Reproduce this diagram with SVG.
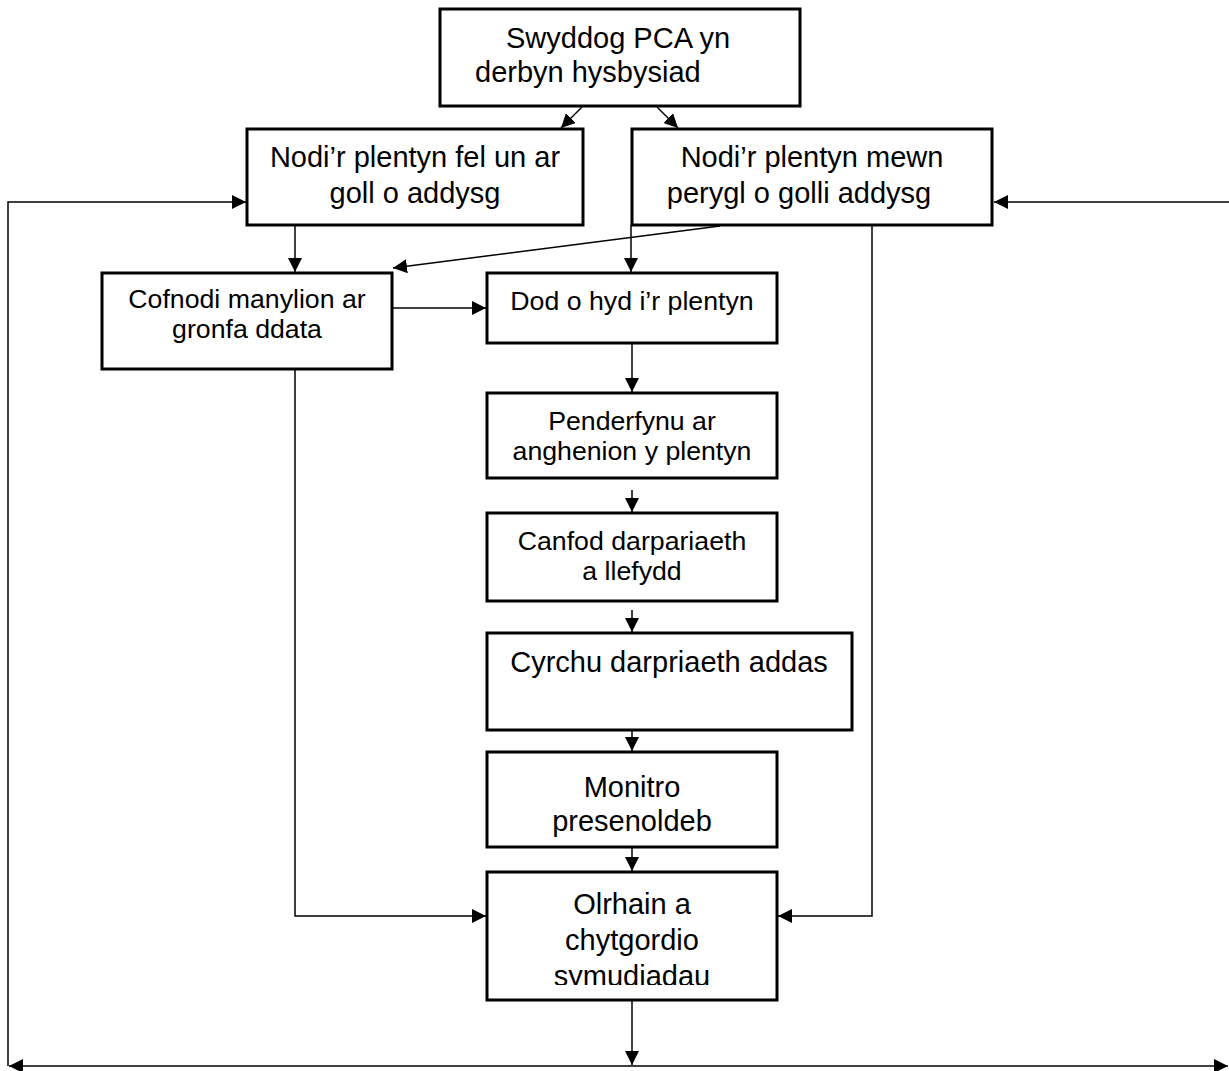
<svg xmlns="http://www.w3.org/2000/svg" width="1229" height="1071" viewBox="0 0 1229 1071">
<style>
.box{fill:#fff;stroke:#000;stroke-width:3}
.t{font-family:"Liberation Sans",Arial,sans-serif;fill:#000}
.big{font-size:29px}
.med{font-size:26.7px}
.c{text-anchor:middle}
.ln{fill:none;stroke:#000;stroke-width:1.5}
</style>
<defs>
<marker id="ah" markerUnits="userSpaceOnUse" markerWidth="15" markerHeight="14" refX="14" refY="7" orient="auto">
<path d="M0,0 L14,7 L0,14 z" fill="#000"/>
</marker>
<clipPath id="clipO"><rect x="487" y="872" width="290" height="113"/></clipPath>
</defs>
<rect width="1229" height="1071" fill="#fff"/>
<g id="connectors">
<line class="ln" x1="582" y1="107" x2="561" y2="128" marker-end="url(#ah)"/>
<line class="ln" x1="657" y1="107" x2="678" y2="128" marker-end="url(#ah)"/>
<polyline class="ln" points="8,1066 8,202 246,202" marker-end="url(#ah)"/>
<line class="ln" x1="1229" y1="202" x2="994" y2="202" marker-end="url(#ah)"/>
<line class="ln" x1="295" y1="225" x2="295" y2="272" marker-end="url(#ah)"/>
<line class="ln" x1="720" y1="226" x2="393" y2="268" marker-end="url(#ah)"/>
<line class="ln" x1="631" y1="225" x2="631" y2="272" marker-end="url(#ah)"/>
<line class="ln" x1="392" y1="308" x2="486" y2="308" marker-end="url(#ah)"/>
<line class="ln" x1="632" y1="344" x2="632" y2="392" marker-end="url(#ah)"/>
<line class="ln" x1="632" y1="490" x2="632" y2="512" marker-end="url(#ah)"/>
<line class="ln" x1="632" y1="610" x2="632" y2="632" marker-end="url(#ah)"/>
<line class="ln" x1="632" y1="731" x2="632" y2="751" marker-end="url(#ah)"/>
<line class="ln" x1="632" y1="848" x2="632" y2="871" marker-end="url(#ah)"/>
<polyline class="ln" points="295,369 295,916 486,916" marker-end="url(#ah)"/>
<polyline class="ln" points="872,225 872,916 778,916" marker-end="url(#ah)"/>
<line class="ln" x1="632" y1="1001" x2="632" y2="1065" marker-end="url(#ah)"/>
<line class="ln" x1="600" y1="1066" x2="1228" y2="1066" marker-end="url(#ah)"/>
<line class="ln" x1="600" y1="1066" x2="9" y2="1066" marker-end="url(#ah)"/>
</g>
<g id="n1">
<rect class="box" x="440" y="9" width="360" height="97"/>
<text class="t big" x="506" y="48">Swyddog PCA yn</text>
<text class="t big" x="475" y="82">derbyn hysbysiad</text>
</g>
<g id="n2">
<rect class="box" x="247" y="129" width="336" height="96"/>
<text class="t big c" x="415" y="167">Nodi’r plentyn fel un ar</text>
<text class="t big c" x="415" y="203">goll o addysg</text>
</g>
<g id="n3">
<rect class="box" x="632" y="129" width="360" height="96"/>
<text class="t big c" x="812" y="167">Nodi’r plentyn mewn</text>
<text class="t big c" x="799" y="203">perygl o golli addysg</text>
</g>
<g id="n4">
<rect class="box" x="102" y="273" width="290" height="96"/>
<text class="t med c" x="247" y="308">Cofnodi manylion ar</text>
<text class="t med c" x="247" y="338">gronfa ddata</text>
</g>
<g id="n5">
<rect class="box" x="487" y="273" width="290" height="70"/>
<text class="t med c" x="632" y="310">Dod o hyd i’r plentyn</text>
</g>
<g id="n6">
<rect class="box" x="487" y="393" width="290" height="85"/>
<text class="t med c" x="632" y="430">Penderfynu ar</text>
<text class="t med c" x="632" y="460">anghenion y plentyn</text>
</g>
<g id="n7">
<rect class="box" x="487" y="513" width="290" height="88"/>
<text class="t med c" x="632" y="550">Canfod darpariaeth</text>
<text class="t med c" x="632" y="580">a llefydd</text>
</g>
<g id="n8">
<rect class="box" x="487" y="633" width="365" height="97"/>
<text class="t big c" x="669" y="672">Cyrchu darpriaeth addas</text>
</g>
<g id="n9">
<rect class="box" x="487" y="752" width="290" height="95"/>
<text class="t big c" x="632" y="797">Monitro</text>
<text class="t big c" x="632" y="831">presenoldeb</text>
</g>
<g id="n10">
<rect class="box" x="487" y="872" width="290" height="128"/>
<g clip-path="url(#clipO)">
<text class="t big c" x="632" y="914">Olrhain a</text>
<text class="t big c" x="632" y="950">chytgordio</text>
<text class="t big c" x="632" y="986">symudiadau</text>
</g>
</g>
</svg>
